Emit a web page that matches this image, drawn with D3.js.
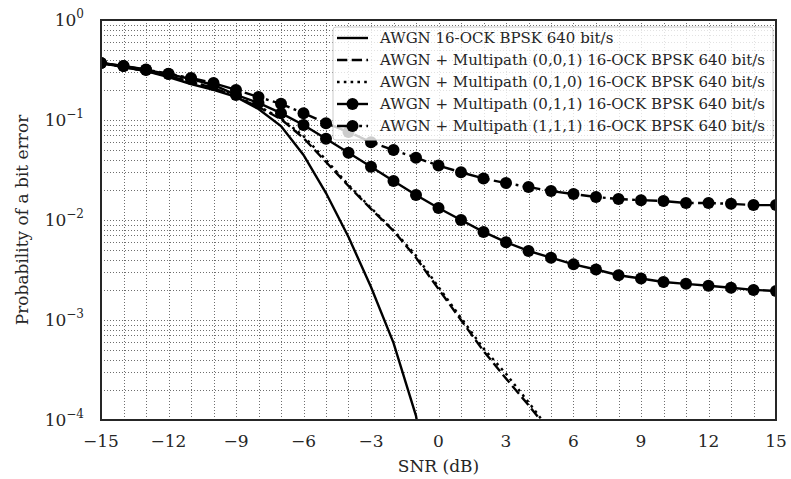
<!DOCTYPE html>
<html>
<head>
<meta charset="utf-8">
<script src="https://cdn.jsdelivr.net/npm/d3@7/dist/d3.min.js"></script>
<style>
  body { margin: 0; background: #fff; }
  svg { font-family: "DejaVu Serif", serif; }
</style>
</head>
<body>
<div id="chart"></div>
<script>
// SNR points (dB)
const snr = d3.range(-15, 16);

// BER curves
const awgn = [0.372, 0.339, 0.309, 0.269, 0.229, 0.200, 0.170, 0.129, 0.087, 0.0447, 0.0186,
  0.00676, 0.00214, 0.00059, 0.00011, 0.000005];
const mp001 = [0.372, 0.339, 0.309, 0.275, 0.240, 0.209, 0.170, 0.135, 0.102, 0.066, 0.038,
  0.0219, 0.0129, 0.0078, 0.0042, 0.00204, 0.0010, 0.00049, 0.00026, 0.000141, 0.000074];
const mp010 = [0.372, 0.339, 0.309, 0.275, 0.241, 0.210, 0.172, 0.137, 0.104, 0.069, 0.040,
  0.0224, 0.0132, 0.0079, 0.0044, 0.00214, 0.00105, 0.00052, 0.00029, 0.000151, 0.000076];
const mp011 = [0.372, 0.347, 0.316, 0.288, 0.257, 0.224, 0.178, 0.148, 0.117, 0.089, 0.065,
  0.047, 0.034, 0.0245, 0.0178, 0.0132, 0.0100, 0.0076, 0.0060, 0.0049, 0.0042, 0.0036,
  0.0032, 0.0028, 0.0026, 0.0024, 0.0023, 0.0022, 0.0021, 0.0020, 0.00195];
const mp111 = [0.372, 0.347, 0.320, 0.290, 0.263, 0.234, 0.200, 0.170, 0.145, 0.117, 0.093,
  0.076, 0.060, 0.050, 0.042, 0.035, 0.030, 0.026, 0.0234, 0.0214, 0.0195, 0.0182, 0.0170,
  0.0162, 0.0158, 0.0155, 0.0148, 0.0148, 0.0145, 0.0141, 0.0141];

const seriesNames = [
  "AWGN 16-OCK BPSK 640 bit/s",
  "AWGN + Multipath (0,0,1) 16-OCK BPSK 640 bit/s",
  "AWGN + Multipath (0,1,0) 16-OCK BPSK 640 bit/s",
  "AWGN + Multipath (0,1,1) 16-OCK BPSK 640 bit/s",
  "AWGN + Multipath (1,1,1) 16-OCK BPSK 640 bit/s"
];
const xTicks = [-15, -12, -9, -6, -3, 0, 3, 6, 9, 12, 15];
const yExps = [0, -1, -2, -3, -4];

// matplotlib-like dash patterns for a ~2.6px line
const series = [
  { name: seriesNames[0], values: awgn, dash: null, marker: false },
  { name: seriesNames[1], values: mp001, dash: "10.3,4.4", marker: false },
  { name: seriesNames[2], values: mp010, dash: "2.6,4.2", marker: false },
  { name: seriesNames[3], values: mp011, dash: null, marker: true },
  { name: seriesNames[4], values: mp111, dash: "17.8,4.4,2.8,4.4", marker: true }
];

const W = 791, H = 479;
const m = { left: 101, right: 15, top: 20, bottom: 59 };
const textCol = "#262626";
const lw = 2.4;

const svg = d3.select("#chart").append("svg")
  .attr("width", W).attr("height", H);

const x = d3.scaleLinear().domain([-15, 15]).range([m.left, W - m.right]);
const y = d3.scaleLog().domain([1e-4, 1]).range([H - m.bottom, m.top]);

svg.append("defs").append("clipPath").attr("id", "plotclip")
  .append("rect")
  .attr("x", x(-15)).attr("y", y(1))
  .attr("width", x(15) - x(-15)).attr("height", y(1e-4) - y(1));

// grid: every dB vertically, every 1..9 x decade horizontally
const grid = svg.append("g").attr("stroke", "#6e6e6e").attr("stroke-width", 1)
  .attr("stroke-dasharray", "1,2");
grid.selectAll("line.v").data(d3.range(-14, 15)).enter().append("line")
  .attr("x1", d => Math.round(x(d)) + 0.5).attr("x2", d => Math.round(x(d)) + 0.5)
  .attr("y1", y(1)).attr("y2", y(1e-4));
const yGrid = [];
yExps.forEach(e => { if (e < 0) d3.range(1, 10).forEach(k => yGrid.push(k * Math.pow(10, e))); });
grid.selectAll("line.h").data(yGrid.filter(v => v > 1e-4 && v < 1)).enter().append("line")
  .attr("x1", x(-15)).attr("x2", x(15))
  .attr("y1", d => Math.round(y(d)) + 0.5).attr("y2", d => Math.round(y(d)) + 0.5);

// curves
const line = d3.line().x((d, i) => x(snr[i])).y(d => y(d));
const plot = svg.append("g").attr("clip-path", "url(#plotclip)");
series.forEach(s => {
  plot.append("path")
    .datum(s.values)
    .attr("d", line)
    .attr("fill", "none")
    .attr("stroke", "#000")
    .attr("stroke-width", lw)
    .attr("stroke-dasharray", s.dash);
  if (s.marker) {
    plot.selectAll(null).data(s.values).enter().append("circle")
      .attr("cx", (d, i) => x(snr[i])).attr("cy", d => y(d))
      .attr("r", 6).attr("fill", "#000");
  }
});

// frame
svg.append("rect")
  .attr("x", x(-15)).attr("y", y(1))
  .attr("width", x(15) - x(-15)).attr("height", y(1e-4) - y(1))
  .attr("fill", "none").attr("stroke", "#262626").attr("stroke-width", 2);

// x tick labels
svg.append("g").selectAll("text").data(xTicks).enter().append("text")
  .attr("x", d => x(d)).attr("y", 447)
  .attr("text-anchor", "middle")
  .attr("font-size", 17).attr("fill", textCol)
  .text(d => d < 0 ? "\u2212" + Math.abs(d) : d);

// y tick labels 10^e
const yl = svg.append("g").selectAll("text").data(yExps).enter().append("text")
  .attr("x", 84).attr("y", d => y(Math.pow(10, d)) + 6)
  .attr("text-anchor", "end")
  .attr("font-size", 17).attr("fill", textCol);
yl.append("tspan").text("10");
yl.append("tspan").attr("dy", -8).attr("font-size", 12)
  .text(d => d < 0 ? "\u2212" + Math.abs(d) : d);

// axis labels
svg.append("text").attr("x", (x(-15) + x(15)) / 2).attr("y", 472)
  .attr("text-anchor", "middle").attr("font-size", 17).attr("fill", textCol)
  .text("SNR (dB)");
svg.append("text")
  .attr("transform", `translate(28,${(y(1) + y(1e-4)) / 2}) rotate(-90)`)
  .attr("text-anchor", "middle").attr("font-size", 17).attr("fill", textCol)
  .text("Probability of a bit error");

// legend
const lg = svg.append("g").attr("transform", "translate(333,27)");
lg.append("rect").attr("width", 440).attr("height", 113).attr("rx", 3)
  .attr("fill", "#fff").attr("fill-opacity", 0.8)
  .attr("stroke", "#cccccc").attr("stroke-width", 1);
series.forEach((s, i) => {
  const row = lg.append("g").attr("transform", `translate(0,${11 + i * 22})`);
  row.append("line").attr("x1", 4).attr("x2", 35).attr("y1", 0).attr("y2", 0)
    .attr("stroke", "#000").attr("stroke-width", lw).attr("stroke-dasharray", s.dash);
  if (s.marker) row.append("circle").attr("cx", 19.5).attr("cy", 0).attr("r", 6).attr("fill", "#000");
  row.append("text").attr("x", 47).attr("y", 5)
    .attr("font-size", 15).attr("fill", textCol).text(s.name);
});
</script>
</body>
</html>
